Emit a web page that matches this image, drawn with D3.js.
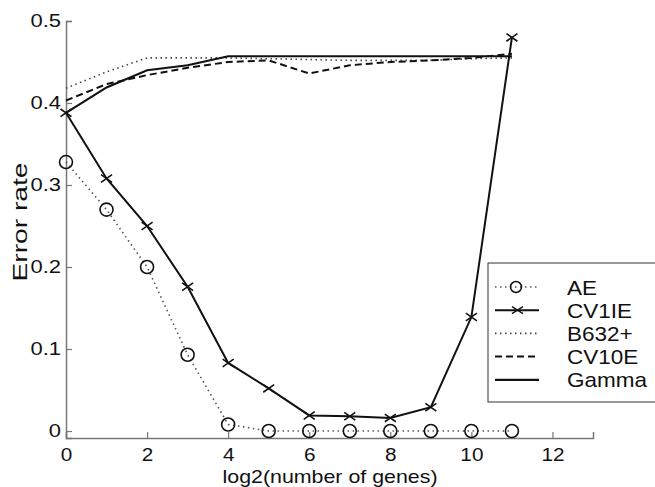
<!DOCTYPE html>
<html><head><meta charset="utf-8">
<script src="https://cdn.jsdelivr.net/npm/d3@7"></script>
<style>body{margin:0;background:#fff}svg{display:block}text{font-family:"Liberation Sans",Arial,sans-serif;fill:#111}</style>
</head><body>
<svg id="c" width="655" height="487"></svg>
<script>
const xs = [0,1,2,3,4,5,6,7,8,9,10,11];
const AE    = [0.328,0.270,0.200,0.093,0.008,0,0,0,0,0,0,0];
const CV1IE = [0.388,0.308,0.250,0.176,0.083,0.052,0.019,0.018,0.016,0.029,0.139,0.480];
const B632  = [0.418,0.438,0.455,0.455,0.455,0.454,0.453,0.452,0.452,0.452,0.454,0.455];
const CV10E = [0.403,0.423,0.434,0.443,0.450,0.452,0.436,0.446,0.450,0.452,0.455,0.460];
const Gamma = [0.388,0.419,0.440,0.446,0.457,0.457,0.457,0.457,0.457,0.457,0.457,0.457];
const xTicks = [0,2,4,6,8,10,12];
const yTicks = [0,0.1,0.2,0.3,0.4,0.5];
const legendNames = ["AE","CV1IE","B632+","CV10E","Gamma"];

const svg = d3.select("#c");
const x = d3.scaleLinear().domain([0,13]).range([66,593]);
const y = d3.scaleLinear().domain([-0.0085,0.5]).range([438,21]);
const axisCol = "#777";

function stretch(sel, k){
  sel.each(function(){ const L=this.getComputedTextLength(); d3.select(this).attr("textLength",L*k).attr("lengthAdjust","spacingAndGlyphs"); });
}

// axes
const gx = svg.append("g").attr("transform",`translate(0,${y(-0.0085)})`)
  .call(d3.axisBottom(x).tickValues(xTicks).tickSize(-6).tickPadding(7).tickFormat(d3.format("d")));
const gy = svg.append("g").attr("transform",`translate(${x(0)},0)`)
  .call(d3.axisLeft(y).tickValues(yTicks).tickSize(-6).tickPadding(5).tickFormat(d=>d===0?"0":d3.format(".1f")(d)));
[gx,gy].forEach(g=>{
  g.select(".domain").attr("stroke",axisCol).attr("stroke-width",1.5);
  g.selectAll(".tick line").attr("stroke",axisCol).attr("stroke-width",1.2);
  g.selectAll(".tick text").style("font-size","18px").style("fill","#111").attr("font-family","Liberation Sans, Arial, sans-serif");
});
gx.selectAll(".tick text").attr("dy","0.88em");
stretch(gx.selectAll(".tick text"),1.15);
stretch(gy.selectAll(".tick text"),1.22);

svg.append("text").attr("x",330).attr("y",483).attr("text-anchor","middle").style("font-size","19px")
  .attr("textLength",215).attr("lengthAdjust","spacingAndGlyphs").text("log2(number of genes)");
svg.append("text").attr("transform","translate(27,222) rotate(-90)").attr("text-anchor","middle").style("font-size","20px")
  .attr("textLength",119).attr("lengthAdjust","spacingAndGlyphs").text("Error rate");

const line = d3.line().x((d,i)=>x(xs[i])).y(d=>y(d));
const styles = {
  AE:{data:AE,stroke:"#555",w:1.6,dash:"1.5,3.5"},
  CV1IE:{data:CV1IE,stroke:"#111",w:2,dash:null},
  B632:{data:B632,stroke:"#444",w:1.6,dash:"1.5,3.5"},
  CV10E:{data:CV10E,stroke:"#111",w:2,dash:"7,4"},
  Gamma:{data:Gamma,stroke:"#111",w:2.2,dash:null}
};
["B632","CV10E","Gamma","AE","CV1IE"].forEach(k=>{
  const s=styles[k];
  svg.append("path").datum(s.data).attr("d",line).attr("fill","none")
    .attr("stroke",s.stroke).attr("stroke-width",s.w).attr("stroke-dasharray",s.dash);
});
// markers
svg.append("g").selectAll("circle").data(AE).join("circle")
  .attr("cx",(d,i)=>x(xs[i])).attr("cy",d=>y(d)).attr("r",6.5)
  .attr("fill","none").attr("stroke","#111").attr("stroke-width",1.6);
const xm = 5.5;
svg.append("g").selectAll("path").data(CV1IE).join("path")
  .attr("d",(d,i)=>{const cx=x(xs[i]),cy=y(d);return `M${cx-xm},${cy-xm*0.7}L${cx+xm},${cy+xm*0.7}M${cx-xm},${cy+xm*0.7}L${cx+xm},${cy-xm*0.7}`;})
  .attr("stroke","#111").attr("stroke-width",1.6).attr("fill","none");

// legend
const lg = svg.append("g");
lg.append("rect").attr("x",488).attr("y",263).attr("width",170).attr("height",139)
  .attr("fill","#fff").attr("stroke","#333").attr("stroke-width",1);
const keys=["AE","CV1IE","B632","CV10E","Gamma"];
const legTexts=[];
keys.forEach((k,i)=>{
  const s=styles[k]; const yy=287+i*23.2;
  lg.append("line").attr("x1",495).attr("x2",539).attr("y1",yy).attr("y2",yy)
    .attr("stroke",s.stroke).attr("stroke-width",s.w).attr("stroke-dasharray",s.dash);
  if(k==="AE") lg.append("circle").attr("cx",516).attr("cy",yy).attr("r",5.5).attr("fill","none").attr("stroke","#111").attr("stroke-width",1.5);
  if(k==="CV1IE") lg.append("path").attr("d",`M${512},${yy-3.5}L${523},${yy+3.5}M${512},${yy+3.5}L${523},${yy-3.5}`).attr("stroke","#111").attr("stroke-width",1.4);
  legTexts.push(lg.append("text").attr("x",567).attr("y",yy).attr("dy","0.36em").style("font-size","21px").text(legendNames[i]).node());
});
const gL = legTexts[4].getComputedTextLength();
stretch(d3.selectAll(legTexts), 80/gL);
</script>
</body></html>
